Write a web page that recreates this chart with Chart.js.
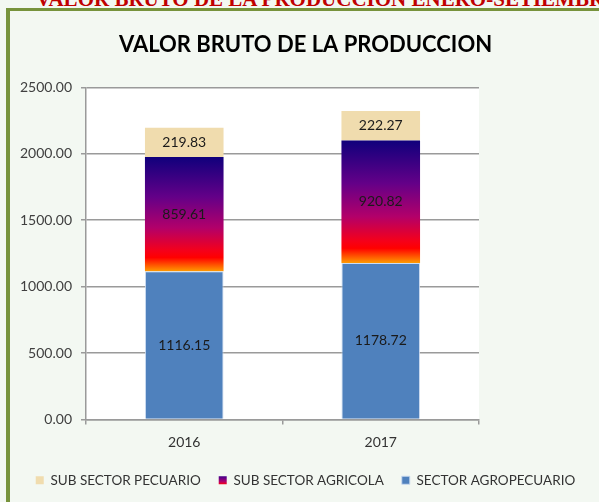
<!DOCTYPE html>
<html><head><meta charset="utf-8">
<script src="https://cdn.jsdelivr.net/npm/chart.js@4.4.1/dist/chart.umd.min.js"></script>
<style>
html,body{margin:0;padding:0;width:599px;height:502px;overflow:hidden;background:#f3f8f2;}
#wrap{position:relative;width:599px;height:502px;}
#top{position:absolute;left:36px;top:-11px;white-space:nowrap;font:bold 21px "Liberation Serif",serif;line-height:20px;color:#c00000;}
#bl{position:absolute;left:6px;top:8px;width:4px;height:494px;background:#77933c;}
#bt{position:absolute;left:6px;top:8px;width:593px;height:3px;background:#77933c;}
canvas{position:absolute;left:0;top:0;}
</style></head>
<body><div id="wrap">
<div id="top">VALOR BRUTO DE LA PRODUCCION ENERO-SETIEMBRE</div>
<canvas id="c" width="599" height="502"></canvas>
<div id="bl"></div><div id="bt"></div>
</div>
<script>
// ---- data ----
const categories = ['2016', '2017'];
const sectorAgropecuario = [1116.15, 1178.72];
const subSectorAgricola = [859.61, 920.82];
const subSectorPecuario = [219.83, 222.27];
const seriesNames = ['SECTOR AGROPECUARIO', 'SUB SECTOR AGRICOLA', 'SUB SECTOR PECUARIO'];
const yTickValues = [0, 500, 1000, 1500, 2000, 2500];
const chartTitle = 'VALOR BRUTO DE LA PRODUCCION';

const FONT = 'Lato, "Open Sans", sans-serif';

function addAgricolaStops(g) {
  g.addColorStop(0, '#10007c');
  g.addColorStop(0.35, '#640088');
  g.addColorStop(0.62, '#b2006a');
  g.addColorStop(0.82, '#f5001a');
  g.addColorStop(0.88, '#ff0000');
  g.addColorStop(1, '#ff9a00');
  return g;
}

function agricolaFill(ctx) {
  const chart = ctx.chart;
  if (!chart.chartArea || ctx.type !== 'data') return '#800080';
  const y = chart.scales.y;
  const i = ctx.dataIndex;
  const base = sectorAgropecuario[i];
  const top = base + subSectorAgricola[i];
  const g = chart.ctx.createLinearGradient(0, y.getPixelForValue(top), 0, y.getPixelForValue(base));
  return addAgricolaStops(g);
}

const chartAreaBg = {
  id: 'chartAreaBg',
  beforeDraw(chart) {
    const a = chart.chartArea, c = chart.ctx;
    c.save(); c.fillStyle = '#ffffff';
    c.fillRect(a.left, a.top, a.right - a.left, a.bottom - a.top);
    c.restore();
    const lg = chart.legend;
    if (lg && lg.legendItems) {
      lg.legendItems.forEach(it => {
        if (it.datasetIndex === 1) {
          const y0 = lg.top + lg.options.labels.padding;
          const g = c.createLinearGradient(0, y0, 0, y0 + 13);
          it.fillStyle = addAgricolaStops(g);
        }
      });
    }
  }
};

const valueLabels = {
  id: 'valueLabels',
  afterDatasetsDraw(chart) {
    const c = chart.ctx;
    c.save();
    c.font = '14px ' + FONT;
    c.fillStyle = '#1a1a1a';
    c.textAlign = 'center';
    c.textBaseline = 'middle';
    chart.data.datasets.forEach((ds, di) => {
      const meta = chart.getDatasetMeta(di);
      meta.data.forEach((el, i) => {
        const p = el.getProps(['x', 'y', 'base'], true);
        c.fillText(ds.data[i].toFixed(2), p.x, (p.y + p.base) / 2);
      });
    });
    c.restore();
  }
};

new Chart(document.getElementById('c'), {
  type: 'bar',
  data: {
    labels: categories,
    datasets: [
      { label: seriesNames[0], data: sectorAgropecuario, backgroundColor: '#4f81bd',
        borderColor: 'rgba(200,216,240,0.9)', borderWidth: 1 },
      { label: seriesNames[1], data: subSectorAgricola, backgroundColor: agricolaFill, borderWidth: 0 },
      { label: seriesNames[2], data: subSectorPecuario, backgroundColor: '#f0dcae', borderWidth: 0 }
    ]
  },
  options: {
    responsive: false,
    animation: false,
    layout: { padding: { left: 12, right: 0, top: 0, bottom: 5 } },
    datasets: { bar: { categoryPercentage: 1, barPercentage: 0.4 } },
    plugins: {
      tooltip: { enabled: false },
      title: {
        display: true, text: chartTitle, color: '#000000',
        font: { family: FONT, size: 22, weight: 'bold' },
        padding: { top: 32, bottom: 29 }
      },
      legend: {
        position: 'bottom', reverse: true,
        labels: { font: { family: FONT, size: 13.5 }, color: '#333333',
          boxWidth: 8, boxHeight: 8, padding: 18 }
      }
    },
    scales: {
      x: {
        stacked: true,
        afterFit(s) { s.height = 36; },
        grid: { display: true, drawOnChartArea: false, drawTicks: true, tickLength: 5,
          color: '#9a9a9a', lineWidth: 1.5, offset: true },
        border: { display: true, color: '#9a9a9a', width: 1.5 },
        ticks: { font: { family: FONT, size: 14 }, color: '#333333', padding: 10 }
      },
      y: {
        stacked: true, min: 0, max: 2500,
        afterFit(s) { s.width = 74; },
        afterBuildTicks(s) { s.ticks = yTickValues.map(v => ({ value: v })); },
        grid: { color: '#9a9a9a', lineWidth: 1.5, tickLength: 5 },
        border: { display: true, color: '#9a9a9a', width: 1.5 },
        ticks: { font: { family: FONT, size: 14 }, color: '#404040', padding: 9,
          callback: v => Number(v).toFixed(2) }
      },
      yRight: {
        position: 'right', display: true,
        afterFit(s) { s.width = 120; },
        grid: { display: false }, border: { display: false }, ticks: { display: false }
      }
    }
  },
  plugins: [chartAreaBg, valueLabels]
});
</script>
</body></html>
